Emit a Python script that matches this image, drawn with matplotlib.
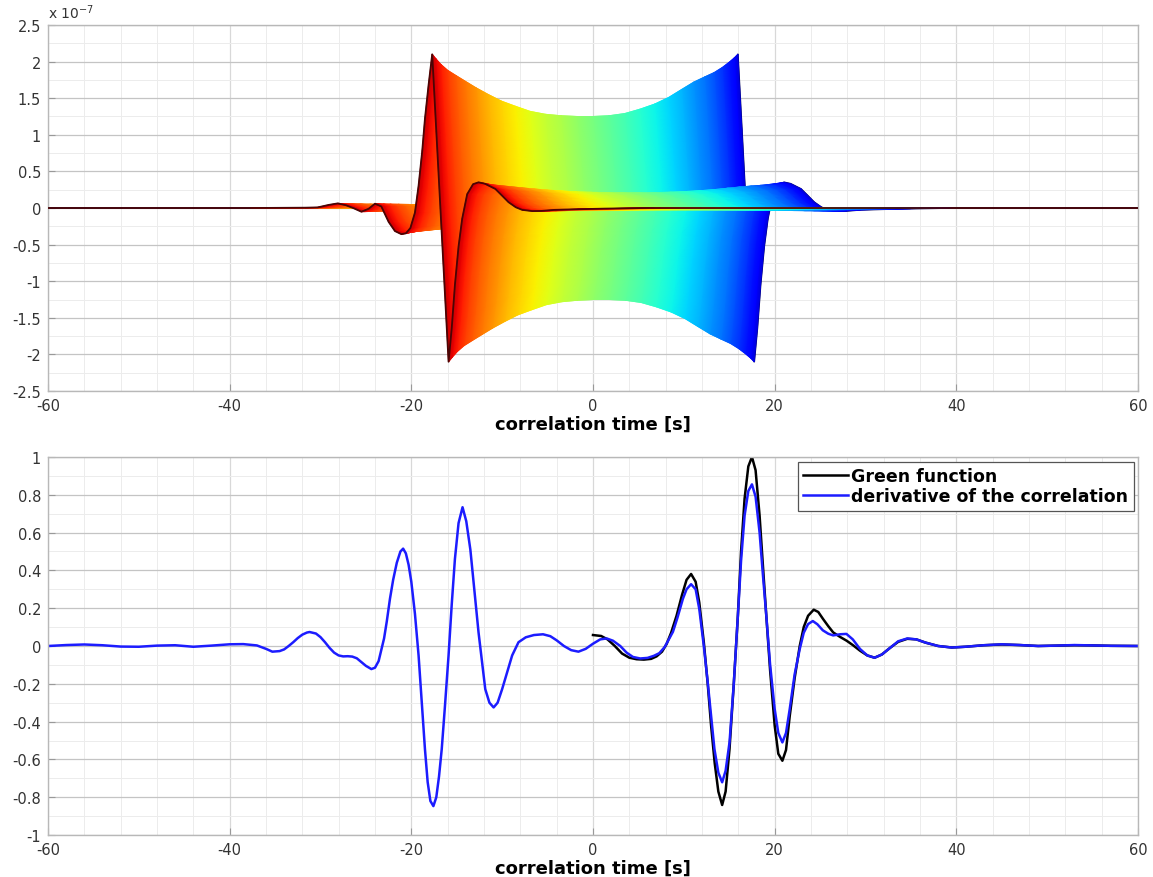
import numpy as np
import matplotlib
matplotlib.use('Agg')
import matplotlib.pyplot as plt
from matplotlib.colors import ListedColormap
from matplotlib.tri import Triangulation
from matplotlib.ticker import MultipleLocator, FuncFormatter

plt.rcParams['font.family'] = ['DejaVu Sans']
plt.rcParams['axes.unicode_minus'] = False

# --- top panel: one normalised correlation pulse, delayed and scaled per source (x 1e-7)
pulse_lag = [-78, -20, -14, -12.6, -11.4, -10.4, -9.5, -8.7, -7.8, -7.0, -6.3, -5.6,
             -4.8, -4.1, -3.4, -2.9, -2.4, -1.9, -1.5, -1.1, -0.8, -0.4, 0.0, 0.45,
             0.9, 1.35, 1.8, 2.15, 2.5, 2.9, 3.3, 3.85, 4.5, 5.1, 5.8, 6.95, 7.7,
             8.4, 9.2, 9.9, 11.0, 12.0, 13.5, 16.0, 19.0, 23.5, 78]
pulse_amp = [0.0, 0.0, 0.002, 0.004, 0.02, 0.03, 0.018, 0.0, -0.024, -0.005, 0.028, 0.01,
             -0.09, -0.15, -0.17, -0.165, -0.13, -0.03, 0.145, 0.37, 0.58, 0.8, 1.0, 0.5,
             0.0, -0.5, -1.0, -0.78, -0.5, -0.25, -0.07, 0.09, 0.155, 0.167, 0.158, 0.124, 0.08,
             0.038, 0.005, -0.012, -0.02, -0.019, -0.012, -0.008, -0.004, 0.0, 0.0]

# sources ordered along the array (red end first); delays crowd together at both ends
source_delay = [-17.70, -17.31, -16.74, -16.00, -15.10, -14.05, -12.86, -11.53, -10.09,
                -8.56, -6.94, -5.25, -3.52, -1.76, 0.01, 1.77, 3.50, 5.19, 6.81, 8.34,
                9.78, 11.11, 12.30, 13.35, 14.25, 14.99, 15.56, 15.95]
source_peak = [2.10, 2.04, 1.96, 1.88, 1.81, 1.73, 1.64, 1.55, 1.46,
               1.39, 1.32, 1.28, 1.26, 1.25, 1.25, 1.26, 1.29, 1.35, 1.42, 1.51,
               1.62, 1.72, 1.79, 1.85, 1.92, 1.99, 2.05, 2.10]

# --- bottom panel
deriv_t = [-60, -58, -56, -54, -52, -50, -48, -46, -44, -42, -40, -38.5, -37, -36, -35.3,
           -34.5, -34, -33.5, -33, -32.5, -32, -31.5, -31.2, -30.5, -30, -29.5, -29, -28.5,
           -28, -27.5, -27, -26.5, -26, -25.5, -25, -24.4, -24, -23.6, -23.3, -23, -22.7,
           -22.35, -22, -21.6, -21.2, -20.9, -20.6, -20.3, -20.0, -19.6, -19.2, -18.85, -18.5,
           -18.2, -17.9, -17.57, -17.25, -16.95, -16.65, -16.3, -15.9, -15.55, -15.2, -14.8,
           -14.36, -13.95, -13.5, -13.05, -12.6, -12.2, -11.86, -11.4, -10.94, -10.5, -10.0,
           -9.45, -8.9, -8.2, -7.4, -6.5, -5.5, -4.7, -4, -3.2, -2.4, -1.6, -0.8, 0, 0.8,
           1.5, 2.2, 3, 3.7, 4.4, 5.2, 6.0, 6.7, 7.3, 7.9, 8.4, 8.8, 9.3, 9.9, 10.3, 10.8,
           11.3, 11.7, 12.2, 12.63, 13.0, 13.37, 13.8, 14.22, 14.6, 15.03, 15.5, 15.95, 16.3,
           16.69, 17.1, 17.5, 17.9, 18.34, 18.7, 19.08, 19.5, 20.0, 20.4, 20.85, 21.25, 21.66,
           22.2, 22.76, 23.2, 23.68, 24.2, 24.7, 25.3, 25.9, 26.44, 27.2, 27.9, 28.6, 29.4,
           30.2, 31.0, 31.8, 32.7, 33.6, 34.6, 35.6, 36.6, 38, 39.5, 41, 43, 45, 47, 49, 51,
           53, 55, 57, 60]
deriv_v = [0.0, 0.005, 0.008, 0.004, -0.003, -0.004, 0.002, 0.004, -0.004, 0.002, 0.009, 0.01,
           0.003, -0.015, -0.03, -0.027, -0.018, 0.0, 0.02, 0.042, 0.06, 0.071, 0.074, 0.066,
           0.047, 0.02, -0.01, -0.035, -0.05, -0.055, -0.054, -0.056, -0.065, -0.085, -0.105,
           -0.122, -0.115, -0.08, -0.02, 0.04, 0.13, 0.25, 0.35, 0.44, 0.50, 0.515, 0.49, 0.43,
           0.34, 0.17, -0.05, -0.30, -0.545, -0.72, -0.82, -0.847, -0.80, -0.69, -0.545, -0.32,
           -0.05, 0.22, 0.46, 0.65, 0.734, 0.66, 0.51, 0.29, 0.072, -0.09, -0.228, -0.30,
           -0.325, -0.30, -0.228, -0.14, -0.05, 0.02, 0.046, 0.058, 0.062, 0.052, 0.03, 0.0,
           -0.022, -0.03, -0.015, 0.012, 0.035, 0.04, 0.028, 0.0, -0.035, -0.058, -0.066,
           -0.063, -0.052, -0.038, -0.005, 0.04, 0.075, 0.15, 0.25, 0.30, 0.327, 0.30, 0.196,
           0.0, -0.192, -0.37, -0.545, -0.67, -0.721, -0.66, -0.51, -0.20, 0.16, 0.45, 0.69,
           0.82, 0.855, 0.79, 0.60, 0.38, 0.16, -0.10, -0.333, -0.46, -0.51, -0.46, -0.333,
           -0.15, -0.016, 0.07, 0.116, 0.132, 0.115, 0.083, 0.065, 0.056, 0.062, 0.064, 0.035,
           -0.016, -0.05, -0.062, -0.045, -0.01, 0.025, 0.04, 0.035, 0.018, 0.0, -0.008,
           -0.004, 0.004, 0.009, 0.005, 0.0, 0.002, 0.005, 0.003, 0.001, 0.0]

green_t = [0, 0.9, 1.6, 2.4, 3.2, 4.0, 4.8, 5.6, 6.4, 7.0, 7.6, 8.1, 8.6, 9.2, 9.8, 10.3,
           10.8, 11.3, 11.7, 12.2, 12.63, 13.0, 13.4, 13.8, 14.22, 14.6, 15.03, 15.5, 15.95,
           16.3, 16.69, 17.1, 17.5, 17.9, 18.34, 18.7, 19.08, 19.5, 20.0, 20.4, 20.85, 21.25,
           21.66, 22.2, 22.76, 23.2, 23.68, 24.3, 24.8, 25.34, 25.9, 26.44, 27.2, 27.92, 28.6,
           29.4, 30.2, 31.0, 31.8, 32.7, 33.6, 34.6, 35.6, 36.6, 38, 39.5, 41, 43, 45, 47, 49,
           51, 53, 55, 57, 60]
green_v = [0.058, 0.053, 0.035, 0.0, -0.04, -0.062, -0.07, -0.072, -0.068, -0.055, -0.03,
           0.01, 0.07, 0.16, 0.27, 0.35, 0.381, 0.34, 0.23, 0.02, -0.2, -0.42, -0.62, -0.77,
           -0.841, -0.77, -0.545, -0.2, 0.16, 0.5, 0.78, 0.95, 1.0, 0.93, 0.69, 0.43, 0.16,
           -0.13, -0.42, -0.57, -0.607, -0.55, -0.37, -0.17, 0.0, 0.1, 0.16, 0.192, 0.18,
           0.142, 0.105, 0.072, 0.048, 0.028, 0.005, -0.025, -0.05, -0.062, -0.045, -0.01,
           0.022, 0.038, 0.035, 0.018, 0.0, -0.008, -0.004, 0.004, 0.008, 0.005, 0.0, 0.002,
           0.004, 0.003, 0.001, 0.0]


def fmt(v, pos):
    s = f'{round(v, 4):g}'
    return '0' if s == '-0' else s


def style_axes(ax, ymaj, ymin):
    ax.set_xlim(-60, 60)
    ax.xaxis.set_major_locator(MultipleLocator(20))
    ax.xaxis.set_minor_locator(MultipleLocator(4))
    ax.yaxis.set_major_locator(MultipleLocator(ymaj))
    ax.yaxis.set_minor_locator(MultipleLocator(ymin))
    ax.xaxis.set_major_formatter(FuncFormatter(fmt))
    ax.yaxis.set_major_formatter(FuncFormatter(fmt))
    ax.grid(True, which='major', axis='y', color='#c4c4c4', lw=0.9)
    ax.grid(True, which='major', axis='x', color='#d8d8d8', lw=0.9)
    ax.grid(True, which='minor', color='#ececec', lw=0.7)
    ax.set_axisbelow(True)
    ax.tick_params(which='major', direction='in', length=5, color='#999999',
                   labelcolor='#333333', labelsize=10.5, pad=5)
    ax.tick_params(which='minor', length=0)
    for sp in ax.spines.values():
        sp.set_color('#b8b8b8')
        sp.set_linewidth(1.0)
    ax.set_xlabel('correlation time [s]', fontsize=13, fontweight='bold', labelpad=1)


fig = plt.figure(figsize=(11.53, 8.78), dpi=100)
ax1 = fig.add_axes([0.0416, 0.5535, 0.9454, 0.4169])
ax2 = fig.add_axes([0.0416, 0.0478, 0.9454, 0.4306])

# ---- top: surface swept by the delayed pulses, shaded by source index
lag = np.array(pulse_lag)
shape = np.array(pulse_amp)
delay = np.array(source_delay)
peak = np.array(source_peak)
n_src, n_lag = len(delay), len(lag)

X = delay[:, None] + lag[None, :]
Y = peak[:, None] * shape[None, :]
C = np.repeat(np.arange(n_src, dtype=float), n_lag)

tris = []
for i in range(n_src - 2, -1, -1):      # red sources painted last (in front)
    for k in range(n_lag - 1):
        a, b = i * n_lag + k, i * n_lag + k + 1
        c, d = (i + 1) * n_lag + k + 1, (i + 1) * n_lag + k
        tris.append([a, b, c])
        tris.append([a, c, d])
tri = Triangulation(X.ravel(), Y.ravel(), np.array(tris))

cmap = ListedColormap(plt.cm.jet(np.linspace(0.94, 0.08, 256)))
ax1.plot(X[-1], Y[-1], color='#00005a', lw=1.2, zorder=2)
ax1.tripcolor(tri, C, shading='gouraud', cmap=cmap, vmin=0, vmax=n_src - 1, zorder=3)
ax1.plot(X[0], Y[0], color='#4a0505', lw=1.3, zorder=4)

ax1.set_ylim(-2.5, 2.5)
style_axes(ax1, 0.5, 0.25)
ax1.text(0.0, 1.012, r'x 10$^{-7}$', transform=ax1.transAxes, fontsize=10,
         color='#333333', ha='left', va='bottom')

# ---- bottom: Green function vs derivative of the correlation
ax2.plot(green_t, green_v, color='black', lw=1.8, label='Green function')
ax2.plot(deriv_t, deriv_v, color='#1c1cff', lw=1.8, label='derivative of the correlation')
ax2.set_ylim(-1, 1)
style_axes(ax2, 0.2, 0.1)
leg = ax2.legend(loc='upper right', bbox_to_anchor=(0.996, 0.988), fancybox=False,
                 framealpha=1, edgecolor='#555555', handlelength=2.6, handletextpad=0.2,
                 borderpad=0.3, labelspacing=0.15, borderaxespad=0,
                 prop={'weight': 'bold', 'size': 12.5})
leg.get_frame().set_linewidth(0.9)

fig.savefig('out.png', dpi=100)
